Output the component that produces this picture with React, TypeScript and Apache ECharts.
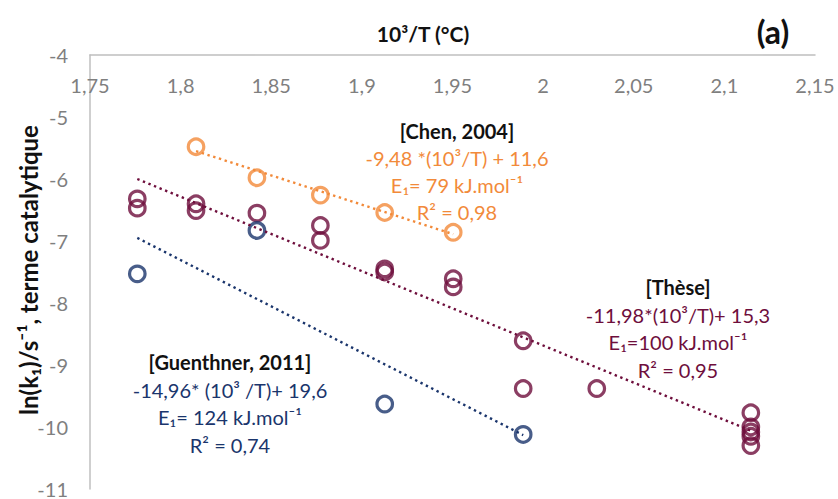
import React, { useEffect, useRef } from "react";
import * as echarts from "echarts";

// ---- data ----
const xTicks = { min: 1.75, max: 2.15, interval: 0.05 };
const yTicks = { min: -11, max: -4, interval: 1 };

const chenX = [1.8085, 1.8421, 1.8771, 1.9126, 1.9504];
const chenY = [-5.48, -5.98, -6.26, -6.54, -6.86];

const theseX = [1.7761, 1.7761, 1.8085, 1.8085, 1.8421, 1.8771, 1.8771, 1.9126, 1.9126, 1.9504, 1.9504, 1.989, 1.989, 2.0296, 2.1146, 2.1146, 2.1146, 2.1146, 2.1146];
const theseY = [-6.32, -6.47, -6.4, -6.51, -6.55, -6.75, -6.99, -7.45, -7.5, -7.61, -7.74, -8.61, -9.38, -9.38, -9.77, -10.0, -10.08, -10.15, -10.3];

const guenX = [1.7761, 1.8421, 1.9126, 1.989];
const guenY = [-7.53, -6.83, -9.63, -10.12];

// trendline end points
const chenTrendX = [1.8085, 1.9504];
const chenTrendY = [-5.55, -6.89];
const theseTrendX = [1.7761, 2.1146];
const theseTrendY = [-6.0, -10.06];
const guenTrendX = [1.7761, 1.989];
const guenTrendY = [-6.95, -10.13];

const chenLabels = ["[Chen, 2004]", "-9,48 *(10³/T) + 11,6", "E₁= 79 kJ.mol⁻¹", "R² = 0,98"];
const theseLabels = ["[Thèse]", "-11,98*(10³/T)+ 15,3", "E₁=100 kJ.mol⁻¹", "R² = 0,95"];
const guenLabels = ["[Guenthner, 2011]", "-14,96* (10³ /T)+ 19,6", "E₁= 124 kJ.mol⁻¹", "R² = 0,74"];

const xTitle = "10³/T (°C)";
const yTitle = "ln(k₁)/s⁻¹, terme catalytique";
const panelTag = "(a)";

const ORANGE = "#F28A3A";
const PURPLE = "#6E0E3C";
const BLUE = "#1A356C";
const FONT = "Lato, 'Noto Sans', sans-serif";

const zip = (xs: number[], ys: number[]) => xs.map((x, i) => [x, ys[i]]);

function scatter(name: string, xs: number[], ys: number[], color: string) {
  return {
    name,
    type: "scatter",
    data: zip(xs, ys),
    symbol: "circle",
    symbolSize: 15.5,
    itemStyle: { color: "rgba(0,0,0,0)", borderColor: color, borderWidth: 3.2 },
    z: 3,
  };
}

function trend(name: string, xs: number[], ys: number[], color: string) {
  return {
    name,
    type: "line",
    data: zip(xs, ys),
    symbol: "none",
    lineStyle: { color, width: 2.4, type: [2.4, 3.6] },
    z: 4,
  };
}

function block(lines: string[], cx: number, cy: number, color: string, step: number) {
  return lines.map((t, i) => ({
    type: "text",
    x: cx,
    y: cy + i * step,
    style: {
      text: t,
      fill: i === 0 ? "#111" : color,
      font: `${i === 0 ? "bold " : ""}20px ${FONT}`,
      align: "center",
      verticalAlign: "middle",
    },
  }));
}

export default function App() {
  const ref = useRef<HTMLDivElement>(null);
  useEffect(() => {
    if (!ref.current) return;
    const chart = echarts.init(ref.current, null, { renderer: "svg" });
    const fmt = (v: number) => String(+v.toFixed(2)).replace(".", ",");
    chart.setOption({
      animation: false,
      backgroundColor: "#ffffff",
      grid: { left: 90, right: 23, top: 55, bottom: 7 },
      xAxis: {
        type: "value",
        position: "top",
        min: xTicks.min,
        max: xTicks.max,
        interval: xTicks.interval,
        axisLine: { show: true, onZero: false, lineStyle: { color: "#BFBFBF", width: 1.5 } },
        axisTick: { show: false },
        splitLine: { show: false },
        axisLabel: {
          inside: true,
          margin: 20,
          color: "#7F7F7F",
          fontSize: 20,
          fontFamily: FONT,
          formatter: fmt,
        },
      },
      yAxis: {
        type: "value",
        min: yTicks.min,
        max: yTicks.max,
        interval: yTicks.interval,
        axisLine: { show: true, onZero: false, lineStyle: { color: "#BFBFBF", width: 1.5 } },
        axisTick: { show: false },
        splitLine: { show: false },
        axisLabel: {
          margin: 22,
          color: "#7F7F7F",
          fontSize: 20,
          fontFamily: FONT,
          formatter: fmt,
        },
      },
      series: [
        scatter("Chen", chenX, chenY, ORANGE),
        scatter("Thèse", theseX, theseY, PURPLE),
        scatter("Guenthner", guenX, guenY, BLUE),
        trend("Chen trend", chenTrendX, chenTrendY, ORANGE),
        trend("Thèse trend", theseTrendX, theseTrendY, PURPLE),
        trend("Guenthner trend", guenTrendX, guenTrendY, BLUE),
      ],
      graphic: [
        {
          type: "text",
          x: 423,
          y: 33,
          style: { text: xTitle, fill: "#111", font: `bold 21px ${FONT}`, align: "center", verticalAlign: "middle" },
        },
        {
          type: "text",
          x: 773,
          y: 31,
          style: { text: panelTag, fill: "#111", font: `bold 32px ${FONT}`, align: "center", verticalAlign: "middle" },
        },
        {
          type: "text",
          x: 28,
          y: 270,
          rotation: Math.PI / 2,
          style: { text: yTitle, fill: "#111", font: `bold 24px ${FONT}`, align: "center", verticalAlign: "middle" },
        },
        ...block(chenLabels, 457, 131, ORANGE, 27),
        ...block(theseLabels, 678, 287, PURPLE, 27.5),
        ...block(guenLabels, 230, 362, BLUE, 27.5),
      ],
    });
    return () => chart.dispose();
  }, []);
  return <div ref={ref} style={{ position: "fixed", left: 0, top: 0, width: 838, height: 499 }} />;
}
